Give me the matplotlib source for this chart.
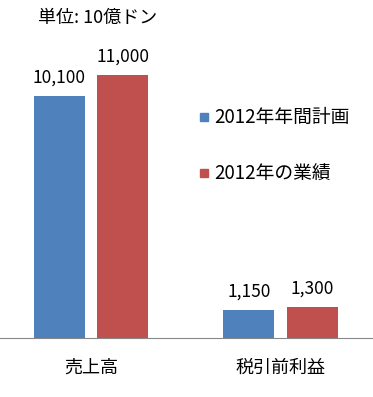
import matplotlib
matplotlib.use("Agg")
import matplotlib.pyplot as plt
import numpy as np

plt.rcParams['font.family'] = ['Noto Sans CJK JP', 'DejaVu Sans']

categories = ['売上高', '税引前利益']
plan = [10100, 1150]
actual = [11000, 1300]
plan_labels = ['10,100', '1,150']
actual_labels = ['11,000', '1,300']
series_names = ['2012年年間計画', '2012年の業績']
colors = ['#4f81bd', '#c0504d']

W, H = 373, 397
fig = plt.figure(figsize=(W / 100, H / 100), dpi=100)
ax = fig.add_axes([0, (H - 338) / H, 1, (338 - 51) / H])

x = np.arange(len(categories))
off = 0.1675
bw = 0.268
b1 = ax.bar(x - off, plan, bw, color=colors[0], label=series_names[0])
b2 = ax.bar(x + off, actual, bw, color=colors[1], label=series_names[1])

for bars, labs in [(b1, plan_labels), (b2, actual_labels)]:
    for b, t in zip(bars, labs):
        ax.text(b.get_x() + b.get_width() / 2, b.get_height() + 400, t,
                ha='center', va='bottom', fontsize=12.5)

ax.set_xlim(-91 / 189.5, (W - 91) / 189.5)
ax.set_ylim(0, 12000)
for s in ['top', 'left', 'right']:
    ax.spines[s].set_visible(False)
ax.spines['bottom'].set_color('#888888')
ax.set_yticks([])
ax.set_xticks(x)
ax.set_xticklabels(categories, fontsize=13)
ax.tick_params(axis='x', length=0, pad=15)

# legend
for i, name in enumerate(series_names):
    yy = 1 - [117, 173][i] / H
    fig.patches.append(plt.Rectangle((200 / W, yy - 4 / H), 8 / W, 8 / H,
                                     color=colors[i], transform=fig.transFigure))
    fig.text(214 / W, yy, name, fontsize=13.5, va='center', ha='left')

fig.text(38 / W, 1 - 18 / H, '単位: 10億ドン', fontsize=13, va='center', ha='left')

fig.savefig('out.png', dpi=100)
